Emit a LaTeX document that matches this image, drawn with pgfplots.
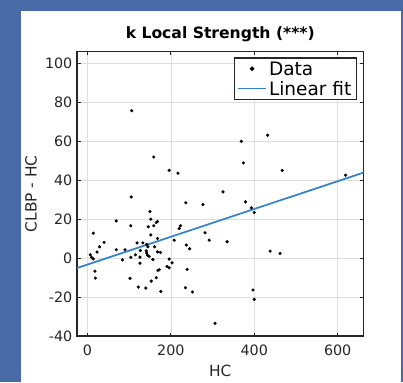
\documentclass[border=0pt]{standalone}
\usepackage{fontspec}
\setmainfont{DejaVu Sans}
\usepackage{pgfplots}
\pgfplotsset{compat=1.18}
\definecolor{bgblue}{RGB}{72,106,166}
\definecolor{mblue}{RGB}{50,128,200}
\definecolor{axgray}{RGB}{38,38,38}
\begin{document}
\begin{tikzpicture}
\fill[bgblue] (0pt,0pt) rectangle (403pt,382pt);
\fill[white] (21pt,0pt) rectangle (400.5pt,371pt);
\begin{axis}[
  at={(77pt,46pt)}, anchor=south west,
  scale only axis, width=286.5pt, height=284.3pt,
  xmin=-25, xmax=662, ymin=-40, ymax=106,
  xtick={0,200,400,600}, ytick={-40,-20,0,20,40,60,80,100},
  tick align=inside, major tick length=3.5pt,
  axis line style={axgray, line width=1.2pt},
  every tick/.style={axgray, line width=0.8pt},
  grid=major, major grid style={black!13, line width=0.6pt},
  /pgf/number format/assume math mode=true,
  ticklabel style={font=\fontsize{14.3}{16}\selectfont, text=axgray},
  xticklabel style={anchor=north, inner sep=0pt, yshift=-9pt},
  yticklabel style={anchor=east, inner sep=0pt, xshift=-4.5pt},
  xlabel={HC}, ylabel={CLBP - HC},
  label style={font=\fontsize{15.4}{17}\selectfont, text=axgray},
  xlabel style={at={(axis description cs:0.5,0)}, anchor=north, inner sep=0pt, yshift=-29pt},
  ylabel style={at={(axis description cs:-0.1407,0.5)}, anchor=base, inner sep=0pt},
  title={k Local Strength (***)},
  title style={at={(axis description cs:0.5,1)}, anchor=base, inner sep=0pt, yshift=7.4pt, font=\bfseries\fontsize{15.6}{18}\selectfont},
  legend style={at={(1,1)}, anchor=north east, xshift=-6.5pt, yshift=-5.6pt,
    draw=axgray, line width=1.4pt, font=\fontsize{18.5}{20}\selectfont,
    cells={anchor=west}, nodes={inner sep=2pt, text depth=0pt}, row sep=2pt,
    inner xsep=3pt, inner ysep=2pt},
]
\addplot[only marks, mark=*, mark size=1.4pt, black,
  legend image code/.code={\path[draw=none, fill=none] (0pt,-1pt) rectangle (28pt,1pt); \fill[black] (14pt,0pt) circle (1.5pt);}]
  table {
x y
105 31.4
325 34.0
379 28.9
393 25.8
400 23.4
236 28.4
277 27.5
150 23.9
69 19.1
152 20.0
168 18.8
165 18.3
159 16.6
146 16.1
104 16.6
223 16.6
220 15.2
14 12.8
282 13.0
152 11.9
168 10.1
208 9.2
292 9.2
335 8.4
40 8.1
119 7.8
133 7.8
29 5.8
237 6.7
245 4.8
142 7.0
145 5.8
161 5.8
69 4.3
90 4.3
23 3.1
168 3.2
175 2.9
127 3.9
141 3.7
142 2.6
115 1.7
144 1.5
148 0.9
7 1.7
10 0.4
14 -0.4
104 0.4
126 0.5
84 -0.9
157 -0.7
196 -0.5
203 -2.4
191 -4.3
196 -5.0
126 -2.6
18 -6.7
172 -6.0
169 -6.3
239 -5.8
19 -10.3
165 -10.1
102 -10.4
153 -11.8
176 -17.1
122 -14.9
140 -15.4
235 -15.2
252 -17.4
397 -16.4
400 -21.2
306 -33.5
106 75.7
159 51.9
196 45.1
217 43.6
369 60.0
374 48.9
432 63.1
467 45.0
619 42.6
438 3.6
462 2.4
};
\addlegendentry{Data}
\addplot[mblue, line width=1.7pt,
  legend image code/.code={\draw[mblue, line width=1.7pt] (0pt,0pt) -- (28pt,0pt);}]
  coordinates {(-25,-5.1) (662,43.9)};
\addlegendentry{Linear fit}
\end{axis}
\end{tikzpicture}
\end{document}
